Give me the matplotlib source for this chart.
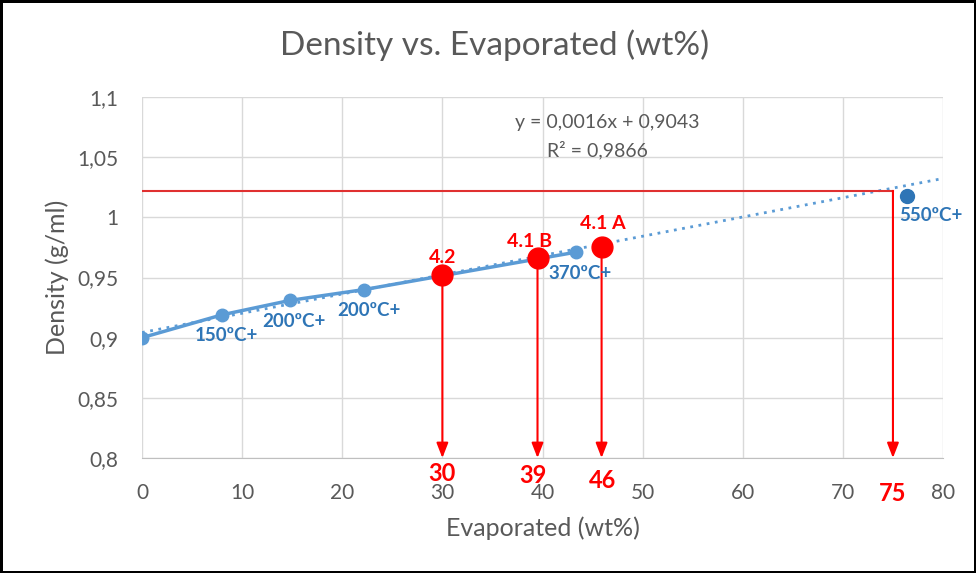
import matplotlib
matplotlib.use("Agg")
import matplotlib.pyplot as plt
from matplotlib.ticker import FuncFormatter
import numpy as np

plt.rcParams['font.family'] = ['Lato', 'DejaVu Sans']

# ---- data ----
blue_x = [0, 8, 14.8, 22.2, 43.3]
blue_y = [0.900, 0.919, 0.931, 0.940, 0.971]
blue_labels = ["", "150ºC+", "200ºC+", "200ºC+", "370ºC+"]

far_x = [76.4]
far_y = [1.018]
far_labels = ["550ºC+"]

red_x = [30, 39.5, 45.9]
red_y = [0.952, 0.966, 0.975]
red_labels = ["4.2", "4.1 B", "4.1 A"]

target_density = 1.022
target_x = 75
arrow_values = [30, 39, 46, 75]

slope, intercept = 0.0016, 0.9043
r2 = 0.9866

x_ticks = [0, 10, 20, 30, 40, 50, 60, 70, 80]
y_ticks = [0.8, 0.85, 0.9, 0.95, 1.0, 1.05, 1.1]

# label offsets (points)
red_label_offsets = [(0, 13), (-6, 12), (1, 17)]
arrow_label_offsets = [-3, -4, -8, -17]

# ---- figure ----
fig = plt.figure(figsize=(9.76, 5.73), dpi=100)
fig.patch.set_facecolor('white')
fig.patch.set_edgecolor('black')
fig.patch.set_linewidth(2.5)
ax = fig.add_axes([0.1455, 0.2007, 0.8207, 0.630])

ax.set_xlim(0, 80)
ax.set_ylim(0.8, 1.1)
ax.set_xticks(x_ticks)
ax.set_yticks(y_ticks)
ax.grid(True, color='#d9d9d9', linewidth=1)
ax.set_axisbelow(True)
for s in ['top', 'right', 'left']:
    ax.spines[s].set_visible(False)
ax.spines['bottom'].set_color('#bfbfbf')
ax.tick_params(length=0, colors='#595959', labelsize=15)
ax.tick_params(axis='x', pad=18)
ax.tick_params(axis='y', pad=17)

def comma_fmt(v, pos):
    s = ('%.2f' % v).rstrip('0').rstrip('.')
    return s.replace('.', ',')
ax.yaxis.set_major_formatter(FuncFormatter(comma_fmt))

# trendline
tx = np.array([0, 80])
ax.plot(tx, slope * tx + intercept, linestyle=(0, (1, 2)), color='#5b9bd5',
        linewidth=2, zorder=2)

# blue series
ax.plot(blue_x, blue_y, '-o', color='#5b9bd5', linewidth=2.5, markersize=9, zorder=3)
ax.plot(far_x, far_y, 'o', color='#2e75b6', markersize=10, zorder=3)

for x, y, t in zip(blue_x, blue_y, blue_labels):
    if t:
        ax.annotate(t, (x, y), xytext=(3, -15), textcoords='offset points',
                    ha='center', va='center', color='#2e75b6', fontsize=13.5,
                    fontweight='bold', zorder=5)
for x, y, t in zip(far_x, far_y, far_labels):
    ax.annotate(t, (x, y), xytext=(17, -14), textcoords='offset points',
                ha='center', va='center', color='#2e75b6', fontsize=13.5,
                fontweight='bold', zorder=5)

# target horizontal line
ax.plot([0, target_x], [target_density, target_density], color='#e03030',
        linewidth=1.5, zorder=2)

# arrows
arrow_starts = list(zip(red_x, red_y)) + [(target_x, target_density)]
for (x, y) in arrow_starts:
    ax.annotate('', xy=(x, 0.8), xytext=(x, y),
                arrowprops=dict(arrowstyle='-|>,head_length=0.9,head_width=0.35',
                                color='#ff0000', linewidth=1.5, shrinkA=0, shrinkB=0),
                zorder=4)

# red points
ax.plot(red_x, red_y, 'o', color='#ff0000', markersize=15, zorder=6, linestyle='none')
for (x, y, t), (ox, oy) in zip(zip(red_x, red_y, red_labels), red_label_offsets):
    ax.annotate(t, (x, y), xytext=(ox, oy), textcoords='offset points',
                ha='center', va='center', color='#ff0000', fontsize=14,
                fontweight='bold', zorder=7)

# arrow value labels
for v, dy in zip(arrow_values, arrow_label_offsets):
    ax.annotate(str(v), (v, 0.8), xytext=(0, dy), textcoords='offset points',
                ha='center', va='top', color='#ff0000', fontsize=17,
                fontweight='bold', annotation_clip=False, zorder=7)

# equation
ax.text(46.5, 1.079, 'y = 0,0016x + 0,9043', ha='center', va='center',
        color='#595959', fontsize=14)
ax.text(45.5, 1.056, 'R² = 0,9866', ha='center', va='center',
        color='#595959', fontsize=14)

fig.text(495 / 976, 1 - 45 / 573, 'Density vs. Evaporated (wt%)', color='#595959',
         fontsize=24, ha='center', va='center')
ax.set_xlabel('Evaporated (wt%)', color='#595959', fontsize=18, labelpad=10)
ax.set_ylabel('Density (g/ml)', color='#595959', fontsize=18, labelpad=6)

fig.savefig('out.png', dpi=100)
